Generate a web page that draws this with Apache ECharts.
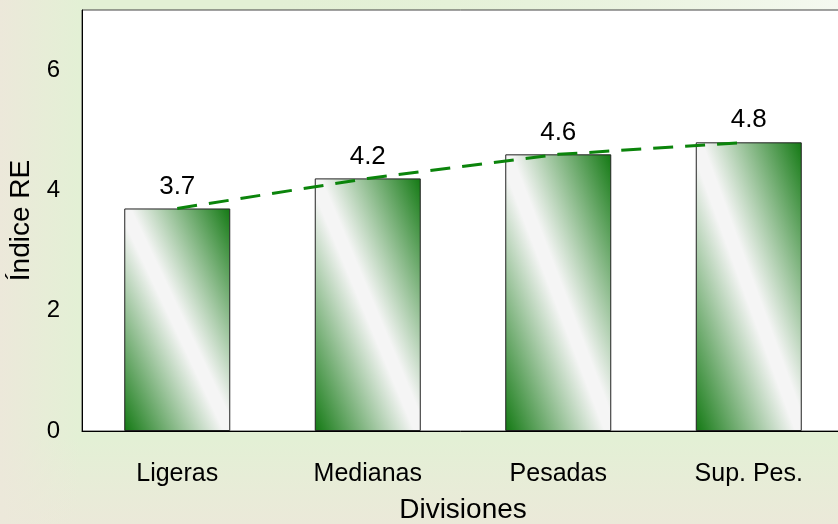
<!DOCTYPE html>
<html>
<head>
<meta charset="utf-8">
<script src="https://cdn.jsdelivr.net/npm/echarts@6/dist/echarts.min.js"></script>
<style>
html, body { margin: 0; padding: 0; }
#chart { width: 838px; height: 524px; }
</style>
</head>
<body>
<div id="chart"></div>
<script>
// datos
const categories = ['Ligeras', 'Medianas', 'Pesadas', 'Sup. Pes.'];
const indiceRE = [3.7, 4.2, 4.6, 4.8];
const yTicks = [0, 2, 4, 6];

const font = '"Liberation Sans", Arial, sans-serif';
const green = '#137913';
const barW = 106;

const chart = echarts.init(document.getElementById('chart'));

// degradado diagonal: banda blanca a lo largo de la diagonal sup-izq -> inf-der
function barFill(h) {
    const L2 = h * h + barW * barW;
    const a = h * h / L2, b = barW * barW / L2;
    return new echarts.graphic.LinearGradient(0.5 - a, 0.5 + b, 0.5 + a, 0.5 - b, [
        { offset: 0, color: green },
        { offset: 0.47, color: '#f5f5f5' },
        { offset: 0.53, color: '#f5f5f5' },
        { offset: 1, color: green }
    ]);
}

chart.setOption({
    backgroundColor: '#e3f0d5',
    textStyle: { fontFamily: font, color: '#000' },
    graphic: [
        {
            type: 'rect', z: -10, silent: true,
            shape: { x: 0, y: 0, width: 838, height: 10 },
            style: { fill: new echarts.graphic.LinearGradient(0, 0, 1, 0, [
                { offset: 0, color: 'rgba(227,240,213,0)' },
                { offset: 0.3, color: 'rgba(227,240,213,0)' },
                { offset: 1, color: '#f5f9f0' }
            ]) }
        },
        {
            type: 'rect', z: -10, silent: true,
            shape: { x: 0, y: 440, width: 838, height: 84 },
            style: { fill: new echarts.graphic.LinearGradient(0, 0, 0, 1, [
                { offset: 0, color: 'rgba(236,233,218,0)' },
                { offset: 1, color: '#ebe9d9' }
            ]) }
        },
        {
            type: 'rect', z: -10, silent: true,
            shape: { x: 0, y: 0, width: 80, height: 524 },
            style: { fill: new echarts.graphic.LinearGradient(0, 0, 1, 0, [
                { offset: 0, color: '#ece8da' },
                { offset: 1, color: 'rgba(236,233,218,0)' }
            ]) }
        }
    ],
    grid: {
        left: 82,
        top: 10,
        right: -6,
        bottom: 93,
        show: true,
        backgroundColor: '#fff',
        borderColor: '#444',
        borderWidth: 1,
        outerBoundsMode: 'none'
    },
    xAxis: {
        type: 'category',
        data: categories,
        name: 'Divisiones',
        nameLocation: 'middle',
        nameGap: 65,
        nameTextStyle: { fontSize: 28, color: '#000', fontFamily: font },
        axisLine: { lineStyle: { color: '#000', width: 1 } },
        axisTick: { show: false },
        axisLabel: { fontSize: 25, color: '#000', margin: 31, fontFamily: font }
    },
    yAxis: {
        type: 'value',
        min: 0,
        max: 7,
        interval: 2,
        name: 'Índice RE',
        nameLocation: 'middle',
        nameGap: 41,
        nameTextStyle: { fontSize: 28, color: '#000', fontFamily: font },
        axisLine: { show: true, lineStyle: { color: '#000', width: 1 } },
        axisTick: { show: false },
        splitLine: { show: false },
        axisLabel: {
            fontSize: 24, color: '#000', margin: 22, fontFamily: font,
            formatter: v => yTicks.includes(v) ? String(v) : ''
        }
    },
    series: [
        {
            type: 'bar',
            data: indiceRE,
            barWidth: barW,
            itemStyle: { color: green, borderColor: '#222', borderWidth: 1 },
            label: {
                show: true,
                position: 'top',
                distance: 9,
                fontSize: 26,
                color: '#000',
                fontFamily: font
            }
        },
        {
            type: 'line',
            data: indiceRE,
            symbol: 'none',
            lineStyle: { color: '#0b840b', width: 3, type: [20, 12] },
            z: 5
        }
    ]
});

// alto de cada barra en píxeles, desde la escala del eje
const y0 = chart.convertToPixel({ yAxisIndex: 0 }, 0);
chart.setOption({
    series: [{
        data: indiceRE.map(v => ({
            value: v,
            itemStyle: { color: barFill(y0 - chart.convertToPixel({ yAxisIndex: 0 }, v)) }
        }))
    }]
});
</script>
</body>
</html>
